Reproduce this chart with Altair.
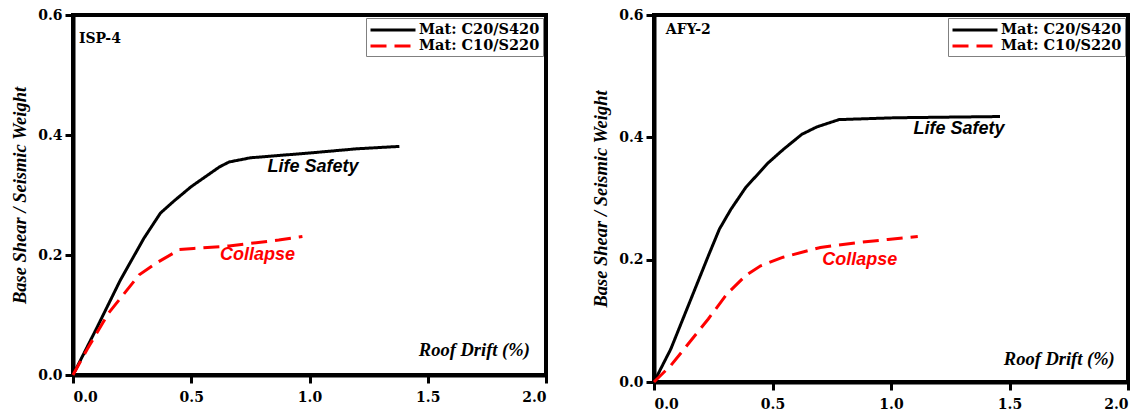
import altair as alt
import pandas as pd

# ---------------- data ----------------
series_names = ["Mat: C20/S420", "Mat: C10/S220"]
series_colors = ["#000000", "#ff0000"]

# ISP-4 panel
isp_c20_x = [0.0, 0.10, 0.20, 0.30, 0.35, 0.37, 0.43, 0.50, 0.62, 0.66, 0.75, 1.00, 1.20, 1.38]
isp_c20_y = [0.0, 0.078, 0.158, 0.228, 0.258, 0.270, 0.291, 0.314, 0.347, 0.355, 0.362, 0.370, 0.377, 0.381]
isp_c10_x = [0.0, 0.06, 0.15, 0.28, 0.35, 0.45, 0.51, 0.66, 0.87, 0.97]
isp_c10_y = [0.0, 0.043, 0.103, 0.167, 0.186, 0.209, 0.211, 0.215, 0.225, 0.231]

# AFY-2 panel
afy_c20_x = [0.0, 0.071, 0.15, 0.229, 0.276, 0.324, 0.387, 0.481, 0.545, 0.624, 0.687, 0.781, 1.018, 1.46]
afy_c20_y = [0.0, 0.054, 0.13, 0.206, 0.25, 0.282, 0.318, 0.358, 0.38, 0.405, 0.417, 0.429, 0.432, 0.434]
afy_c10_x = [0.0, 0.071, 0.15, 0.229, 0.308, 0.387, 0.45, 0.545, 0.702, 0.86, 0.987, 1.113]
afy_c10_y = [0.0, 0.027, 0.065, 0.103, 0.144, 0.174, 0.19, 0.204, 0.22, 0.228, 0.233, 0.238]

x_ticks = [0.0, 0.5, 1.0, 1.5, 2.0]
y_ticks = [0.0, 0.2, 0.4, 0.6]

# annotation texts and their data positions
isp_texts = {"tag": ("ISP-4", 0.025, 0.56), "ls": ("Life Safety", 1.015, 0.347),
             "col": ("Collapse", 0.78, 0.20), "rd": ("Roof Drift (%)", 1.697, 0.042)}
afy_texts = {"tag": ("AFY-2", 0.05, 0.576), "ls": ("Life Safety", 1.287, 0.413),
             "col": ("Collapse", 0.868, 0.199), "rd": ("Roof Drift (%)", 1.71, 0.037)}

SERIF = "DejaVu Serif"
SERIF2 = "Liberation Serif"
SANS = "Liberation Sans"


def panel(c20x, c20y, c10x, c10y, texts, w, h):
    rows = []
    for name, xs, ys in [(series_names[0], c20x, c20y), (series_names[1], c10x, c10y)]:
        for i, (a, b) in enumerate(zip(xs, ys)):
            rows.append({"series": name, "drift": a, "ratio": b, "idx": i})
    df = pd.DataFrame(rows)

    xenc = alt.X("drift:Q", scale=alt.Scale(domain=[0, 2], nice=False),
                 axis=alt.Axis(values=x_ticks, format=".1f", title=None))
    yenc = alt.Y("ratio:Q", scale=alt.Scale(domain=[0, 0.6], nice=False),
                 axis=alt.Axis(values=y_ticks, format=".1f", title="Base Shear / Seismic Weight"))

    leg = alt.Legend(title=None, orient="top-right", offset=3, fillColor="white",
                     strokeColor="#808080", padding=3, labelFont=SERIF,
                     labelFontWeight="bold", labelFontSize=14.5, labelColor="black",
                     symbolType="M-1,0H5", symbolSize=225, symbolStrokeWidth=3,
                     rowPadding=-2, labelOffset=32, labelLimit=300)

    lines = alt.Chart(df).mark_line(strokeWidth=3).encode(
        x=xenc, y=yenc,
        color=alt.Color("series:N", scale=alt.Scale(domain=series_names, range=series_colors), legend=leg),
        strokeDash=alt.StrokeDash("series:N", scale=alt.Scale(domain=series_names, range=[[1, 0], [16, 8]]), legend=leg),
        order="idx:Q",
    )

    def txt(key, **style):
        t, a, b = texts[key]
        d = pd.DataFrame({"label": [t], "drift": [a], "ratio": [b]})
        return alt.Chart(d).mark_text(**style).encode(
            x=alt.X("drift:Q"), y=alt.Y("ratio:Q"), text="label:N")

    tag = txt("tag", align="left", baseline="middle", font=SERIF, fontWeight="bold", fontSize=14, color="black")
    ls = txt("ls", align="center", baseline="middle", font=SANS, fontWeight="bold", fontStyle="italic", fontSize=18, color="black")
    col = txt("col", align="center", baseline="middle", font=SANS, fontWeight="bold", fontStyle="italic", fontSize=18, color="#ff0000")
    rd = txt("rd", align="center", baseline="middle", font=SERIF2, fontWeight="bold", fontStyle="italic", fontSize=18.5, color="black")

    return alt.layer(lines, tag, ls, col, rd).properties(width=w, height=h)


left = panel(isp_c20_x, isp_c20_y, isp_c10_x, isp_c10_y, isp_texts, 473, 360)
right = panel(afy_c20_x, afy_c20_y, afy_c10_x, afy_c10_y, afy_texts, 474, 367)

chart = alt.hconcat(left, right, spacing=39).resolve_legend(
    color="independent", strokeDash="independent"
).resolve_scale(
    color="independent", strokeDash="independent"
).properties(
    padding={"left": 0, "top": -2, "right": 0, "bottom": 0}
).configure_view(
    stroke="black", strokeWidth=4
).configure_axis(
    grid=False, domainColor="black", domainWidth=4, tickColor="black", tickWidth=3,
    tickSize=8, labelFont=SERIF, labelFontWeight="bold", labelFontSize=14, labelColor="black",
    titleFont=SERIF2, titleFontWeight="bold", titleFontStyle="italic", titleFontSize=18.5,
    titleColor="black"
).configure_axisY(
    labelPadding=3, titlePadding=8
).configure_axisX(
    labelPadding=7
)

chart.save("out.html", embed_options={"renderer": "svg", "actions": False})
